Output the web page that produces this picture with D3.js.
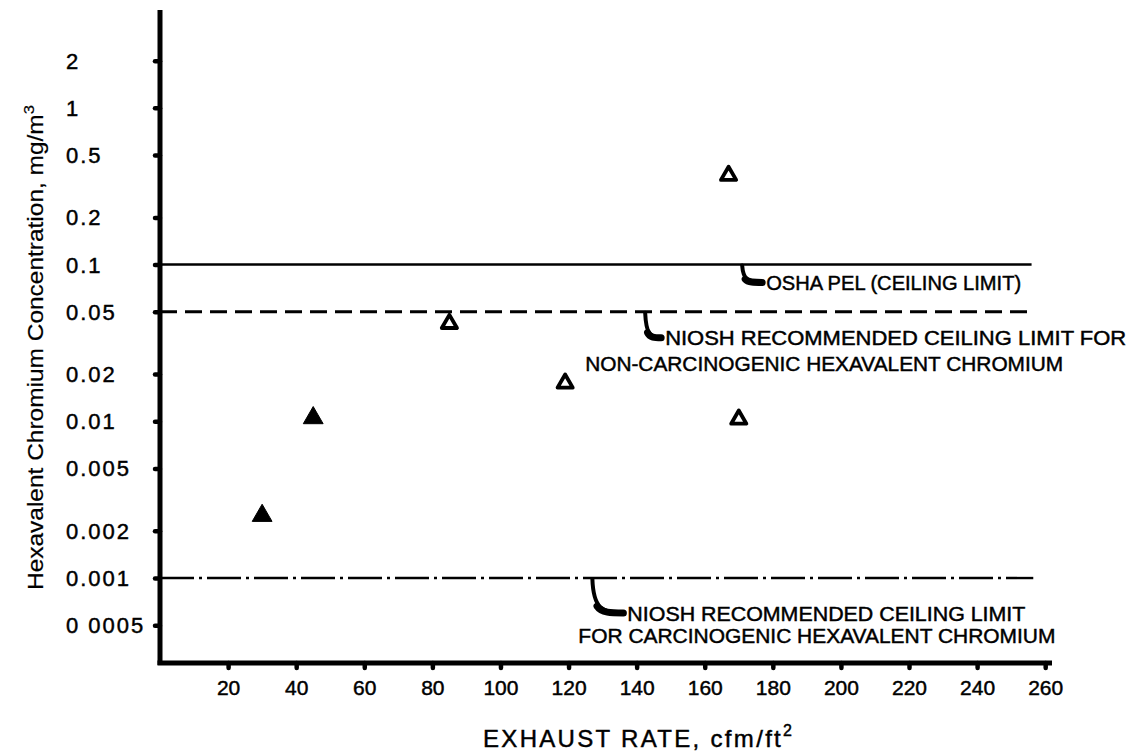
<!DOCTYPE html>
<html><head><meta charset="utf-8">
<script src="https://cdn.jsdelivr.net/npm/d3@7"></script>
<style>
body{margin:0;background:#fff}
svg{display:block;background:#fff}
text{font-family:"Liberation Sans",Arial,sans-serif;fill:#000;stroke:#000;stroke-width:0.45px}
</style></head><body>
<svg id="chart" width="1130" height="756"></svg>
<script>
// ---- data ----
const xTicks = [20,40,60,80,100,120,140,160,180,200,220,240,260];
const yTicks = [2,1,0.5,0.2,0.1,0.05,0.02,0.01,0.005,0.002,0.001,0.0005];
const yTickLabels = ["2","1","0.5","0.2","0.1","0.05","0.02","0.01","0.005","0.002","0.001","0 0005"];
const filledX = [30, 45];
const filledY = [0.0025, 0.0105];
const openX = [85, 119, 167, 170];
const openY = [0.042, 0.0175, 0.37, 0.0103];
const limitValues = [0.1, 0.05, 0.001];
const limitEndX = [256, 256, 256.5];
const leaderX = [171, 142.5, 127];
const annotationLines = [
  ["OSHA PEL (CEILING LIMIT)"],
  ["NIOSH RECOMMENDED CEILING LIMIT FOR", "NON-CARCINOGENIC HEXAVALENT CHROMIUM"],
  ["NIOSH RECOMMENDED CEILING LIMIT", "FOR CARCINOGENIC HEXAVALENT CHROMIUM"]
];
const xTitle = "EXHAUST RATE, cfm/ft";
const xTitleSup = "2";
const yTitle = "Hexavalent Chromium Concentration, mg/m";
const yTitleSup = "3";

// ---- layout ----
const svg = d3.select("#chart");
const x = d3.scaleLinear().domain([0, 262]).range([160, 1052]);
const y = d3.scaleLog().domain([0.000287, 4.21]).range([663, 10]);

// reference lines
const lineStyles = [
  {w: 2.4, dash: null},
  {w: 2.8, dash: "17,8"},
  {w: 2.4, dash: "34,5,3,5"}
];
svg.append("g").selectAll("line").data(limitValues).join("line")
  .attr("x1", x(0)).attr("x2", (d,i) => x(limitEndX[i]))
  .attr("y1", d => y(d)).attr("y2", d => y(d))
  .attr("stroke", "#000")
  .attr("stroke-width", (d,i) => lineStyles[i].w)
  .attr("stroke-dasharray", (d,i) => lineStyles[i].dash);

// axes
const yAxis = d3.axisLeft(y).tickValues(yTicks).tickFormat((d,i) => yTickLabels[i]).tickSize(5).tickPadding(0);
const gy = svg.append("g").attr("transform", `translate(${x(0)},0)`).call(yAxis);
gy.select(".domain").attr("d", `M0,${y.range()[1]}V${y.range()[0]+2}`).attr("stroke-width", 5);
gy.selectAll(".tick line").attr("stroke-width", 4.5).attr("stroke-linecap", "round");
gy.selectAll(".tick text").attr("x", -94).attr("text-anchor", "start").attr("dy", null)
  .attr("y", 7.5).style("font-size", "22px").style("letter-spacing", "2px")
  .style("font-family", '"Liberation Sans",Arial,sans-serif').attr("fill", "#000");

const xAxis = d3.axisBottom(x).tickValues(xTicks).tickSize(5).tickPadding(0);
const gx = svg.append("g").attr("transform", `translate(0,${y.range()[0]})`).call(xAxis);
gx.select(".domain").attr("d", `M${x(0)-2.5},0H${x.range()[1]}`).attr("stroke-width", 5);
gx.selectAll(".tick line").attr("stroke-width", 4.5).attr("stroke-linecap", "round");
gx.selectAll(".tick text").attr("y", 32).attr("dy", null)
  .style("font-size", "21px").style("font-family", '"Liberation Sans",Arial,sans-serif').attr("fill", "#000");

// markers
const triFilled = d3.symbol().type(d3.symbolTriangle).size(170);
const triOpen = d3.symbol().type(d3.symbolTriangle).size(100);
svg.append("g").selectAll("path").data(filledX).join("path")
  .attr("d", triFilled)
  .attr("transform", (d,i) => `translate(${x(d)},${y(filledY[i])})`)
  .attr("fill", "#000").attr("stroke", "#000").attr("stroke-width", 1).attr("stroke-linejoin", "round");
svg.append("g").selectAll("path").data(openX).join("path")
  .attr("d", triOpen)
  .attr("transform", (d,i) => `translate(${x(d)},${y(openY[i])})`)
  .attr("fill", "#fff").attr("stroke", "#000").attr("stroke-width", 3.8).attr("stroke-linejoin", "round");

// annotations
const annLayout = [
  {dx: 20, dy: 17, lh: 0, l2x: 0, widths: [255]},
  {dx: 16, dy: 25, lh: 26, l2x: -60, widths: [461, 478]},
  {dx: 31, dy: 34, lh: 22, l2x: -14, widths: [398, 477]}
];
const ga = svg.append("g");
annotationLines.forEach((lines, i) => {
  const L = annLayout[i];
  const x0 = x(leaderX[i]), y0 = y(limitValues[i]) + 1;
  const x1 = x0 + L.dx, y1 = y0 + L.dy;
  const d = `M${x0},${y0} C${x0+1},${y0+L.dy*0.85} ${x0+L.dx*0.3},${y1} ${x1},${y1}`;
  ga.append("path").attr("d", d)
    .attr("fill", "none").attr("stroke", "#000").attr("stroke-width", 4).attr("stroke-linecap", "round");
  ga.append("path").attr("d", `M${x0+L.dx*0.15},${y1-L.dy*0.2} C${x0+L.dx*0.3},${y1} ${x0+L.dx*0.6},${y1} ${x1},${y1}`)
    .attr("fill", "none").attr("stroke", "#000").attr("stroke-width", 7).attr("stroke-linecap", "round");
  lines.forEach((t, j) => {
    ga.append("text")
      .attr("x", j === 0 ? x1 + 4 : x0 + L.l2x)
      .attr("y", y1 + j * L.lh + 7.5)
      .attr("textLength", L.widths[j]).attr("lengthAdjust", "spacingAndGlyphs")
      .style("font-size", "20px")
      .text(t);
  });
});

// axis titles
const xt = svg.append("text")
  .attr("x", 483).attr("y", 747)
  .attr("textLength", 309).attr("lengthAdjust", "spacing")
  .style("font-size", "24px");
xt.append("tspan").text(xTitle);
xt.append("tspan").attr("dy", -11).style("font-size", "16px").text(xTitleSup);

const yt = svg.append("text")
  .attr("transform", "translate(43,590) rotate(-90)")
  .attr("x", 0).attr("y", 0)
  .attr("textLength", 485).attr("lengthAdjust", "spacingAndGlyphs")
  .style("font-size", "22px").style("stroke-width", "0.2px");
yt.append("tspan").text(yTitle);
yt.append("tspan").attr("dy", -9).style("font-size", "15px").text(yTitleSup);
</script>
</body></html>
